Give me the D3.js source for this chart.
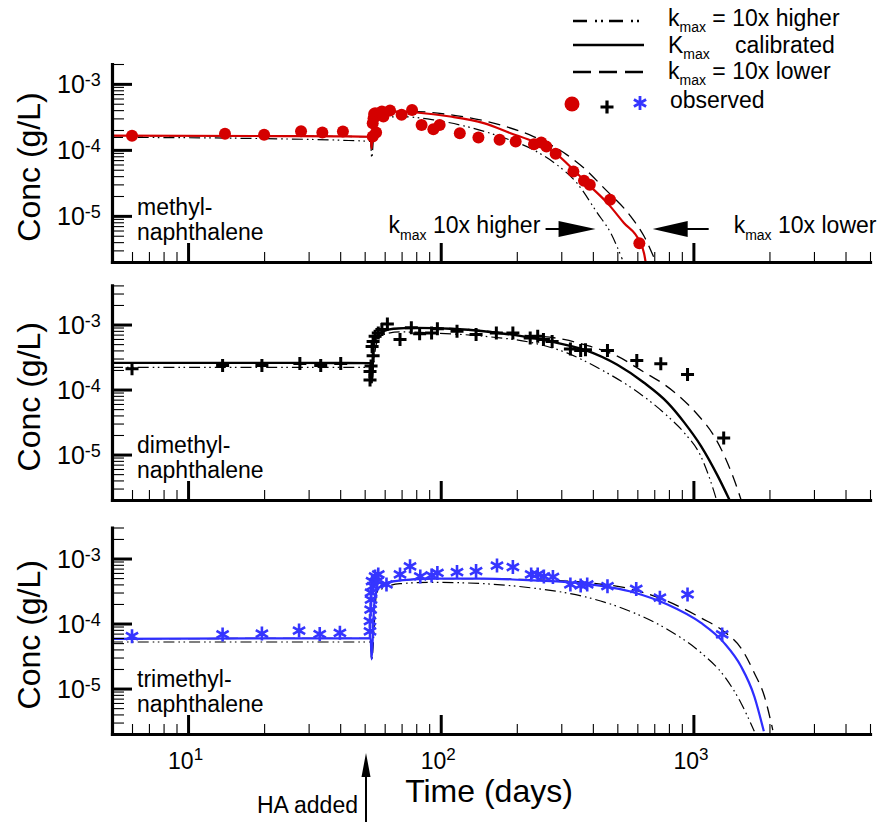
<!DOCTYPE html>
<html>
<head>
<meta charset="utf-8">
<script src="https://cdn.jsdelivr.net/npm/d3@7/dist/d3.min.js"></script>
<style>
html,body{margin:0;padding:0;background:#fff;}
svg{display:block;}
text{font-family:"Liberation Sans",Arial,Helvetica,sans-serif;fill:#000;}
</style>
</head>
<body>
<svg id="chart" width="885" height="822"></svg>
<script>
// ================= DATA =================
const xDomainDays = [5, 5000];
const xMajorTicks = [10, 100, 1000];
const xTickLabels = [["10","1"],["10","2"],["10","3"]];
const yMajorTicks = [1e-3, 1e-4, 1e-5];
const yTickLabels = [["10","-3"],["10","-4"],["10","-5"]];
const panelLabels = [["methyl-","naphthalene"],["dimethyl-","naphthalene"],["trimethyl-","naphthalene"]];
const yDomains = [[2e-6, 2e-3],[2e-6, 4e-3],[2e-6, 3e-3]];
const haAddedDay = 50.6;
const arrowHigherTipDay = 410;
const arrowLowerTipDay = 690;

// --- methyl-naphthalene (top) ---
const methylObsT = [6,14,20,28,34,41,53.8,53.8,54.2,54.5,55,55.5,57.5,58.5,59.3,63,70,77,84,93.5,99,119,141,171,198,234,250,262,285,335,369,389,468,611];
const methylObsC = [1.63e-4,1.75e-4,1.7e-4,1.92e-4,1.83e-4,1.9e-4,1.6e-4,2.54e-4,3.0e-4,3.5e-4,3.6e-4,1.83e-4,3.6e-4,3.8e-4,3.2e-4,3.95e-4,3.4e-4,4.03e-4,2.39e-4,2.06e-4,2.39e-4,1.79e-4,1.54e-4,1.42e-4,1.34e-4,1.22e-4,1.29e-4,1.12e-4,8.7e-5,4.7e-5,3.4e-5,2.95e-5,1.75e-5,3.85e-6];
const methylCalT = [5,20,40,52.8,53.3,54.2,55.5,58,63,70,80,109,148,189,237,284,335,380,457,531,612,638,650];
const methylCalC = [1.64e-4,1.62e-4,1.6e-4,1.58e-4,1.05e-4,2.6e-4,3.3e-4,3.6e-4,3.8e-4,3.8e-4,3.68e-4,3.2e-4,2.54e-4,1.79e-4,1.29e-4,8.9e-5,5.0e-5,3.1e-5,1.56e-5,7.8e-6,4.1e-6,2.7e-6,1.8e-6];
const methylLowT = [5,20,40,52.8,53.3,54.2,55.5,58,63,80,109,172,233,316,369,443,565,638,710];
const methylLowC = [1.64e-4,1.62e-4,1.6e-4,1.58e-4,1.05e-4,2.6e-4,3.3e-4,3.6e-4,3.8e-4,3.8e-4,3.4e-4,2.39e-4,1.59e-4,8.4e-5,5.3e-5,2.63e-5,9.8e-6,4.9e-6,2e-6];
const methylHighT = [5,20,40,52.8,53.3,54.5,55.5,59,69,93.5,127,172,233,289,347,417,471,523];
const methylHighC = [1.55e-4,1.48e-4,1.4e-4,1.34e-4,7.6e-5,2.0e-4,2.7e-4,3.0e-4,3.2e-4,2.85e-4,2.25e-4,1.59e-4,1.0e-4,5.9e-5,3.1e-5,1.1e-5,5.5e-6,2.2e-6];

// --- dimethyl-naphthalene (middle) ---
const dimethylObsT = [6,13.7,19.6,27.7,33.5,40.2,52.5,52.5,53,54,53.5,54,55,56.6,58.5,61.5,69,76.5,82.5,92,97,116,138,166,193,226,242,255,276,326,358,374,457,597,743,948,1318];
const dimethylObsC = [2.08e-4,2.34e-4,2.34e-4,2.51e-4,2.34e-4,2.51e-4,1.4e-4,1.9e-4,2.3e-4,3.3e-4,4.6e-4,5.5e-4,6.6e-4,7.4e-4,8.4e-4,1.02e-3,5.9e-4,8.9e-4,7.2e-4,7.4e-4,8.6e-4,7.9e-4,7.0e-4,7.4e-4,7.4e-4,6.2e-4,6.6e-4,5.9e-4,5.5e-4,4.2e-4,4.0e-4,4.1e-4,4.0e-4,2.8e-4,2.5e-4,1.7e-4,1.8e-5];
const dimethylCalT = [5,20,40,52.8,53.3,54.3,55.8,59.4,65,80,109,148,200,272,369,500,638,790,921,1072,1248,1390];
const dimethylCalC = [2.57e-4,2.57e-4,2.56e-4,2.55e-4,1.29e-4,4.6e-4,6.6e-4,7.9e-4,8.6e-4,8.9e-4,8.6e-4,7.9e-4,6.8e-4,5.5e-4,4.1e-4,2.4e-4,1.27e-4,6.3e-5,3.1e-5,1.35e-5,4.7e-6,2e-6];
const dimethylLowT = [5,20,40,52.8,53.3,54.3,55.8,59.4,65,80,109,148,200,307,392,500,638,766,892,1040,1210,1346,1497,1545];
const dimethylLowC = [2.57e-4,2.57e-4,2.56e-4,2.55e-4,1.29e-4,4.6e-4,6.6e-4,7.9e-4,8.6e-4,8.9e-4,8.7e-4,8.0e-4,7.0e-4,5.9e-4,4.6e-4,3.26e-4,1.85e-4,1.2e-4,7.5e-5,4.1e-5,1.9e-5,8.4e-6,2.9e-6,2e-6];
const dimethylHighT = [5,20,40,52.8,53.3,54.5,55.8,59.4,69,93.5,148,233,316,430,582,790,921,1072,1210,1235];
const dimethylHighC = [2.2e-4,2.2e-4,2.2e-4,2.2e-4,1.2e-4,3.0e-4,5.2e-4,7.0e-4,7.7e-4,7.4e-4,6.6e-4,5.2e-4,3.66e-4,2.04e-4,1.0e-4,3.9e-5,2.15e-5,9.3e-6,2.6e-6,2e-6];

// --- trimethyl-naphthalene (bottom) ---
const trimethylObsT = [6,13.7,19.6,27.5,33.2,39.9,52.5,52.5,52.8,53,53,54,53.5,55,56.6,56,61,69,75.6,83,92,97,116,138,167,193,228,242,256,278,326,358,380,457,594,737,948,1300];
const trimethylObsC = [6.4e-5,6.8e-5,7.0e-5,7.8e-5,6.9e-5,7.2e-5,7.6e-5,1.09e-4,1.64e-4,2.34e-4,3.0e-4,3.75e-4,4.5e-4,5.3e-4,5.7e-4,4.5e-4,4.0e-4,5.7e-4,7.6e-4,5.3e-4,5.5e-4,6.0e-4,6.2e-4,6.4e-4,7.8e-4,7.4e-4,5.7e-4,5.7e-4,5.3e-4,5.2e-4,4.0e-4,3.85e-4,4.0e-4,3.75e-4,3.4e-4,2.5e-4,2.8e-4,6.8e-5];
const trimethylCalT = [5,20,40,52.8,53.3,54.3,55,56.6,61,69,93.5,148,233,369,582,790,1072,1325,1543,1742,1900];
const trimethylCalC = [5.8e-5,5.9e-5,5.9e-5,5.9e-5,2.8e-5,1.46e-4,2.6e-4,3.5e-4,4.2e-4,4.6e-4,4.9e-4,4.9e-4,4.6e-4,4.1e-4,3.0e-4,1.96e-4,1.02e-4,5.0e-5,2.2e-5,7.6e-6,2.2e-6];
const trimethylLowT = [5,20,40,52.8,53.3,54.3,55,56.6,61,69,93.5,148,233,369,582,790,1072,1342,1543,1742,1910,2062];
const trimethylLowC = [5.8e-5,5.9e-5,5.9e-5,5.9e-5,2.8e-5,1.46e-4,2.6e-4,3.5e-4,4.2e-4,4.6e-4,4.9e-4,4.9e-4,4.7e-4,4.3e-4,3.3e-4,2.2e-4,1.22e-4,7.2e-5,4.2e-5,1.74e-5,7.6e-6,2.3e-6];
const trimethylHighT = [5,20,40,52.8,53.3,55.8,59.4,69,93.5,148,233,369,582,790,1072,1325,1543,1742];
const trimethylHighC = [5.2e-5,5.2e-5,5.2e-5,5.2e-5,2.8e-5,3.0e-4,3.5e-4,4.1e-4,4.3e-4,4.1e-4,3.5e-4,2.6e-4,1.46e-4,8.1e-5,3.55e-5,1.55e-5,6e-6,2.2e-6];

// ================= STYLE / LAYOUT =================
const RED = "#d40000", BLUE = "#2e2eff", STARBLUE = "#3535ff";
const FONT_TICK = 25;
const panelLayout = [
  {bottom: 262, top: 64},
  {bottom: 500, top: 285.4},
  {bottom: 734, top: 527.5}
];
const panels = [
  {obsT: methylObsT, obsC: methylObsC, cal: [methylCalT, methylCalC], low: [methylLowT, methylLowC], high: [methylHighT, methylHighC], color: RED, marker: "circle"},
  {obsT: dimethylObsT, obsC: dimethylObsC, cal: [dimethylCalT, dimethylCalC], low: [dimethylLowT, dimethylLowC], high: [dimethylHighT, dimethylHighC], color: "#000", marker: "plus"},
  {obsT: trimethylObsT, obsC: trimethylObsC, cal: [trimethylCalT, trimethylCalC], low: [trimethylLowT, trimethylLowC], high: [trimethylHighT, trimethylHighC], color: BLUE, marker: "star"}
];

const svg = d3.select("#chart");
const x = d3.scaleLog().domain(xDomainDays).range([112, 870]);
const isMajor = v => Math.abs(Math.log10(v) - Math.round(Math.log10(v))) < 1e-9;

const PLUS = "M-6.5,0H6.5M0,-6.5V6.5";
const STAR = "M0,-7V7M-6.1,-3.5L6.1,3.5M-6.1,3.5L6.1,-3.5";
const DASH = "12,7";
const DASHDOT = "11,4,1.6,3.5,1.6,4";

panels.forEach((p, i) => {
  const L = panelLayout[i];
  const y = d3.scaleLog().domain(yDomains[i]).range([L.bottom, L.top]);
  const g = svg.append("g");

  const cid = "clip" + i;
  svg.append("defs").append("clipPath").attr("id", cid)
    .append("rect").attr("x", 112).attr("y", L.top - 30).attr("width", 760).attr("height", L.bottom - L.top + 30);

  const line = d3.line().x(d => x(d[0])).y(d => y(d[1])).curve(d3.curveMonotoneX);
  const toPts = arr => arr[0].map((t, k) => [t, arr[1][k]]);
  const lg = g.append("g").attr("clip-path", `url(#${cid})`);
  lg.append("path").attr("d", line(toPts(p.low))).attr("fill", "none").attr("stroke", "#000")
    .attr("stroke-width", 1.3).attr("stroke-dasharray", DASH);
  lg.append("path").attr("d", line(toPts(p.high))).attr("fill", "none").attr("stroke", "#000")
    .attr("stroke-width", 1.2).attr("stroke-dasharray", DASHDOT);
  lg.append("path").attr("d", line(toPts(p.cal))).attr("fill", "none").attr("stroke", p.color)
    .attr("stroke-width", i === 1 ? 2.4 : 2.2);

  const obs = p.obsT.map((t, k) => [t, p.obsC[k]]);
  const mg = g.append("g");
  if (p.marker === "circle") {
    mg.selectAll("circle").data(obs).join("circle")
      .attr("cx", d => x(d[0])).attr("cy", d => y(d[1])).attr("r", 6).attr("fill", RED);
  } else if (p.marker === "plus") {
    mg.selectAll("path").data(obs).join("path")
      .attr("transform", d => `translate(${x(d[0])},${y(d[1])})`).attr("d", PLUS)
      .attr("stroke", "#000").attr("stroke-width", 3).attr("fill", "none");
  } else {
    mg.selectAll("path").data(obs).join("path")
      .attr("transform", d => `translate(${x(d[0])},${y(d[1])})`).attr("d", STAR)
      .attr("stroke", STARBLUE).attr("stroke-width", 2.6).attr("fill", "none");
  }

  // x axis
  const minorX = x.ticks().filter(v => !isMajor(v));
  const ax = g.append("g").attr("transform", `translate(0,${L.bottom})`);
  ax.append("g").call(d3.axisBottom(x).tickValues(minorX).tickSize(-10).tickSizeOuter(0).tickFormat(""))
    .call(s => s.select(".domain").remove())
    .call(s => s.selectAll(".tick line").attr("stroke", "#000").attr("stroke-width", 1.1));
  ax.append("g").call(d3.axisBottom(x).tickValues(xMajorTicks).tickSize(-19).tickSizeOuter(0).tickFormat(""))
    .call(s => s.select(".domain").attr("stroke", "#000").attr("stroke-width", 3.2).attr("stroke-linecap", "square"))
    .call(s => s.selectAll(".tick line").attr("stroke", "#000").attr("stroke-width", 3));

  // y axis
  const minorY = y.ticks().filter(v => !isMajor(v));
  const ay = g.append("g").attr("transform", `translate(112,0)`);
  ay.append("g").call(d3.axisLeft(y).tickValues(minorY).tickSize(-12).tickSizeOuter(0).tickFormat(""))
    .call(s => s.select(".domain").remove())
    .call(s => s.selectAll(".tick line").attr("stroke", "#000").attr("stroke-width", 1.1));
  ay.append("g").call(d3.axisLeft(y).tickValues(yMajorTicks).tickSize(-20).tickSizeOuter(0).tickFormat(""))
    .call(s => s.select(".domain").attr("stroke", "#000").attr("stroke-width", 3.2).attr("stroke-linecap", "square"))
    .call(s => s.selectAll(".tick line").attr("stroke", "#000").attr("stroke-width", 3));

  yMajorTicks.forEach((v, k) => {
    const t = g.append("text").attr("x", 57).attr("y", y(v) + 9).attr("font-size", FONT_TICK);
    t.append("tspan").text(yTickLabels[k][0]);
    t.append("tspan").attr("font-size", 18).attr("dy", -7).text(yTickLabels[k][1]);
  });

  g.append("text").attr("transform", `translate(40,${(L.top + L.bottom) / 2 + 4}) rotate(-90)`)
    .attr("text-anchor", "middle").attr("font-size", 32).text("Conc (g/L)");

  const pl = g.append("text").attr("font-size", 23);
  pl.append("tspan").attr("x", 137).attr("y", L.bottom - 47).text(panelLabels[i][0]);
  pl.append("tspan").attr("x", 137).attr("y", L.bottom - 22).text(panelLabels[i][1]);

  if (i === 2) {
    xMajorTicks.forEach((v, k) => {
      const t = g.append("text").attr("x", x(v) - 20).attr("y", L.bottom + 35).attr("font-size", 23);
      t.append("tspan").text(xTickLabels[k][0]);
      t.append("tspan").attr("font-size", 17).attr("dy", -9).text(xTickLabels[k][1]);
    });
  }

  if (i === 0) {
    const ya = 229;
    const xt = x(arrowHigherTipDay);
    g.append("path").attr("d", `M${xt},${ya}L${xt - 37},${ya - 8}L${xt - 37},${ya + 8}Z`).attr("fill", "#000");
    g.append("line").attr("x1", xt - 50).attr("x2", xt - 36).attr("y1", ya).attr("y2", ya).attr("stroke", "#000").attr("stroke-width", 2);
    const t1 = g.append("text").attr("x", xt - 207).attr("y", 233).attr("font-size", 23);
    t1.append("tspan").text("k");
    t1.append("tspan").attr("font-size", 14).attr("dy", 7).text("max");
    t1.append("tspan").attr("dy", -7).text(" 10x higher");

    const xl = x(arrowLowerTipDay);
    g.append("path").attr("d", `M${xl},${ya}L${xl + 35},${ya - 8}L${xl + 35},${ya + 8}Z`).attr("fill", "#000");
    g.append("line").attr("x1", xl + 34).attr("x2", xl + 56).attr("y1", ya).attr("y2", ya).attr("stroke", "#000").attr("stroke-width", 2);
    const t2 = g.append("text").attr("x", xl + 81).attr("y", 233).attr("font-size", 23);
    t2.append("tspan").text("k");
    t2.append("tspan").attr("font-size", 14).attr("dy", 7).text("max");
    t2.append("tspan").attr("dy", -7).text(" 10x lower");
  }
});

svg.append("text").attr("x", 489).attr("y", 802).attr("text-anchor", "middle").attr("font-size", 32).text("Time (days)");

const xh = x(haAddedDay);
svg.append("line").attr("x1", xh).attr("x2", xh).attr("y1", 775).attr("y2", 822).attr("stroke", "#000").attr("stroke-width", 2);
svg.append("path").attr("d", `M${xh},753L${xh - 4.5},777L${xh + 4.5},777Z`).attr("fill", "#000");
svg.append("text").attr("x", 358).attr("y", 813).attr("text-anchor", "end").attr("font-size", 23).text("HA added");

const leg = svg.append("g");
const legRows = [
  {y: 21, dash: "14,8,2,4,2,6", big: "k", rest: " = 10x higher"},
  {y: 45, dash: null, big: "K", rest: null},
  {y: 72, dash: "18,8", big: "k", rest: " = 10x lower"}
];
const legBase = [26, 53, 79];
legRows.forEach((r, k) => {
  const ln = leg.append("line").attr("x1", 573).attr("x2", 644).attr("y1", r.y).attr("y2", r.y)
    .attr("stroke", "#000").attr("stroke-width", 2.6);
  if (r.dash) ln.attr("stroke-dasharray", r.dash);
  const t = leg.append("text").attr("x", 668).attr("y", legBase[k]).attr("font-size", 23);
  t.append("tspan").text(r.big);
  t.append("tspan").attr("font-size", 14).attr("dy", 6).text("max");
  if (r.rest) t.append("tspan").attr("dy", -6).text(r.rest);
});
leg.append("text").attr("x", 735).attr("y", 53).attr("font-size", 23).text("calibrated");
leg.append("circle").attr("cx", 572).attr("cy", 104).attr("r", 7.5).attr("fill", RED);
leg.append("path").attr("transform", "translate(607,107)").attr("d", PLUS).attr("stroke", "#000").attr("stroke-width", 3.2);
leg.append("path").attr("transform", "translate(640,103)").attr("d", STAR).attr("stroke", STARBLUE).attr("stroke-width", 2.8);
leg.append("text").attr("x", 670).attr("y", 108).attr("font-size", 23).text("observed");
</script>
</body>
</html>
